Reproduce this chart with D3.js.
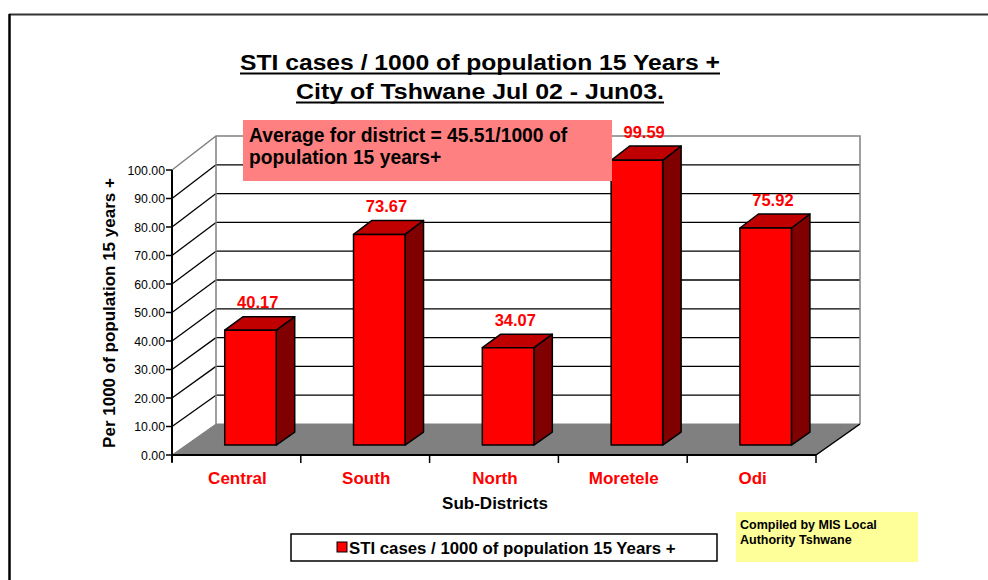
<!DOCTYPE html>
<html>
<head>
<meta charset="utf-8">
<script src="https://cdn.jsdelivr.net/npm/d3@7"></script>
<style>
  html, body { margin: 0; padding: 0; background: #fff; }
  svg { display: block; font-family: Arial, "Liberation Sans", sans-serif; }
</style>
</head>
<body>
<svg id="chart" width="988" height="580"></svg>
<script>
// ---- Data ----
const categories = ["Central", "South", "North", "Moretele", "Odi"];
const values = [40.17, 73.67, 34.07, 99.59, 75.92];
const yTicks = [0, 10, 20, 30, 40, 50, 60, 70, 80, 90, 100];
const titleLines = ["STI cases / 1000 of population 15 Years +", "City of Tshwane Jul 02 - Jun03."];
const seriesName = "STI cases / 1000 of population 15 Years +";
const yAxisTitle = "Per 1000 of population 15 years +";
const xAxisTitle = "Sub-Districts";
const noteLines = ["Average for district = 45.51/1000 of", "population 15 years+"];
const creditLines = ["Compiled by MIS Local", "Authority Tshwane"];

// ---- Setup ----
const svg = d3.select("#chart");
const x = d3.scaleBand().domain(categories).range([172, 816]).paddingInner(0).paddingOuter(0);
const yFront = d3.scaleLinear().domain([0, 100]).range([455, 170]);
const yBack = d3.scaleLinear().domain([0, 100]).range([424, 136]);
const DX = 44;
function proj(px, v, z) {
  return [px + DX * z, yFront(v) * (1 - z) + yBack(v) * z];
}
const ptStr = pts => pts.map(p => p.join(",")).join(" ");

// Outer frame
svg.append("line").attr("x1", 9).attr("x2", 988).attr("y1", 14.5).attr("y2", 14.5)
  .attr("stroke", "#333").attr("stroke-width", 2);
svg.append("line").attr("x1", 9.5).attr("x2", 9.5).attr("y1", 14).attr("y2", 580)
  .attr("stroke", "#000").attr("stroke-width", 2.5);

// Title
const title = svg.append("g");
const titleWidths = [480, 368];
titleLines.forEach((t, i) => {
  title.append("text").attr("x", 480).attr("y", 70 + i * 29)
    .attr("text-anchor", "middle").attr("font-weight", "bold").attr("font-size", 22.5)
    .attr("textLength", titleWidths[i]).attr("lengthAdjust", "spacingAndGlyphs")
    .attr("fill", "#000").text(t);
});
// underlines
title.selectAll("text").each(function () {
  const b = this.getBBox();
  const yy = +d3.select(this).attr("y") + 3.5;
  title.append("line").attr("x1", b.x).attr("x2", b.x + b.width).attr("y1", yy).attr("y2", yy)
    .attr("stroke", "#000").attr("stroke-width", 2.2);
});

const [x0, x1] = x.range();
// Back wall
svg.append("rect").attr("x", x0 + DX).attr("y", yBack(100)).attr("width", x1 - x0)
  .attr("height", yBack(0) - yBack(100)).attr("fill", "#fff");
// Back wall gridlines
svg.append("g").selectAll("line").data(yTicks.slice(1, -1)).join("line")
  .attr("x1", x0 + DX).attr("x2", x1 + DX).attr("y1", d => yBack(d)).attr("y2", d => yBack(d))
  .attr("stroke", "#000").attr("stroke-width", 1.3);
// Side wall diagonals
svg.append("g").selectAll("line").data(yTicks.slice(1, -1)).join("line")
  .attr("x1", x0).attr("y1", d => yFront(d)).attr("x2", x0 + DX).attr("y2", d => yBack(d))
  .attr("stroke", "#000").attr("stroke-width", 1.3);
// Wall borders (gray)
svg.append("polyline")
  .attr("points", ptStr([[x0, yFront(100)], [x0 + DX, yBack(100)], [x1 + DX, yBack(100)], [x1 + DX, yBack(0)]]))
  .attr("fill", "none").attr("stroke", "#808080").attr("stroke-width", 1.5);
svg.append("line").attr("x1", x0 + DX).attr("x2", x0 + DX).attr("y1", yBack(100)).attr("y2", yBack(0))
  .attr("stroke", "#808080").attr("stroke-width", 1.5);

// Floor
svg.append("polygon")
  .attr("points", ptStr([[x0, yFront(0)], [x1, yFront(0)], [x1 + DX, yBack(0)], [x0 + DX, yBack(0)]]))
  .attr("fill", "#808080").attr("stroke", "#808080").attr("stroke-width", 1);
svg.append("line").attr("x1", x1).attr("y1", yFront(0)).attr("x2", x1 + DX).attr("y2", yBack(0))
  .attr("stroke", "#000").attr("stroke-width", 1.5);

// Bars
const z0 = 0.32, z1 = 0.74;
const bw = x.bandwidth() * 0.4;
const bars = svg.append("g");
categories.forEach((c, i) => {
  const v = values[i];
  const cx = x(c) + x.bandwidth() / 2;
  const l = cx - bw / 2, r = cx + bw / 2;
  const front = [proj(l, 0, z0), proj(r, 0, z0), proj(r, v, z0), proj(l, v, z0)];
  const side = [proj(r, 0, z0), proj(r, 0, z1), proj(r, v, z1), proj(r, v, z0)];
  const top = [proj(l, v, z0), proj(r, v, z0), proj(r, v, z1), proj(l, v, z1)];
  bars.append("polygon").attr("points", ptStr(side)).attr("fill", "#800000")
    .attr("stroke", "#000").attr("stroke-width", 1.5).attr("stroke-linejoin", "round");
  bars.append("polygon").attr("points", ptStr(top)).attr("fill", "#C00000")
    .attr("stroke", "#000").attr("stroke-width", 1.5).attr("stroke-linejoin", "round");
  bars.append("polygon").attr("points", ptStr(front)).attr("fill", "#FF0000")
    .attr("stroke", "#000").attr("stroke-width", 1.5).attr("stroke-linejoin", "round");
});

// Y axis (front)
svg.append("line").attr("x1", x0).attr("x2", x0).attr("y1", yFront(0) + 7).attr("y2", yFront(100))
  .attr("stroke", "#000").attr("stroke-width", 2);
const yAx = svg.append("g");
yAx.selectAll("line").data(yTicks).join("line")
  .attr("x1", x0 - 6).attr("x2", x0).attr("y1", d => yFront(d)).attr("y2", d => yFront(d))
  .attr("stroke", "#000").attr("stroke-width", 1.5);
yAx.selectAll("text").data(yTicks).join("text")
  .attr("x", x0 - 7).attr("y", d => yFront(d) + 4.5).attr("text-anchor", "end")
  .attr("font-size", 12.3).attr("fill", "#000").text(d => d.toFixed(2));

// X axis (front floor edge)
svg.append("line").attr("x1", x0).attr("x2", x1).attr("y1", yFront(0)).attr("y2", yFront(0))
  .attr("stroke", "#000").attr("stroke-width", 2);
const bounds = categories.map(c => x(c)).concat([x1]);
svg.append("g").selectAll("line").data(bounds).join("line")
  .attr("x1", d => d).attr("x2", d => d).attr("y1", yFront(0)).attr("y2", yFront(0) + 8)
  .attr("stroke", "#000").attr("stroke-width", 1.5);
svg.append("g").selectAll("text").data(categories).join("text")
  .attr("x", d => x(d) + x.bandwidth() / 2 + 1).attr("y", 484).attr("text-anchor", "middle")
  .attr("font-size", 17).attr("font-weight", "bold").attr("fill", "#FF0000").text(d => d);

// Axis titles
svg.append("text").attr("x", 495).attr("y", 509).attr("text-anchor", "middle")
  .attr("font-size", 17).attr("font-weight", "bold").text(xAxisTitle);
svg.append("text").attr("transform", "translate(115,313) rotate(-90)").attr("text-anchor", "middle")
  .attr("font-size", 17).attr("font-weight", "bold").text(yAxisTitle);

// Data labels
svg.append("g").selectAll("text").data(categories).join("text")
  .attr("x", (d, i) => proj(x(d) + x.bandwidth() / 2, values[i], (z0 + z1) / 2)[0] - 2)
  .attr("y", (d, i) => proj(x(d) + x.bandwidth() / 2, values[i], (z0 + z1) / 2)[1] - 15)
  .attr("text-anchor", "middle").attr("font-size", 16.5).attr("font-weight", "bold")
  .attr("fill", "#FF0000").text((d, i) => values[i].toFixed(2));

// Annotation box
svg.append("rect").attr("x", 243).attr("y", 120).attr("width", 369).attr("height", 61).attr("fill", "#FF8080");
noteLines.forEach((t, i) => {
  svg.append("text").attr("x", 249).attr("y", 142 + i * 22).attr("font-size", 19.3)
    .attr("font-weight", "bold").attr("fill", "#000").text(t);
});

// Legend
svg.append("rect").attr("x", 291).attr("y", 534).attr("width", 426).attr("height", 27)
  .attr("fill", "#fff").attr("stroke", "#000").attr("stroke-width", 1.5);
svg.append("rect").attr("x", 337).attr("y", 542).attr("width", 10).attr("height", 10)
  .attr("fill", "#FF0000").attr("stroke", "#000").attr("stroke-width", 1);
svg.append("text").attr("x", 349).attr("y", 554).attr("font-size", 16.8).attr("font-weight", "bold")
  .text(seriesName);

// Credit box
svg.append("rect").attr("x", 736).attr("y", 512).attr("width", 182).attr("height", 50).attr("fill", "#FFFF99");
creditLines.forEach((t, i) => {
  svg.append("text").attr("x", 740).attr("y", 529 + i * 15).attr("font-size", 12.5)
    .attr("font-weight", "bold").attr("fill", "#000").text(t);
});
</script>
</body>
</html>
